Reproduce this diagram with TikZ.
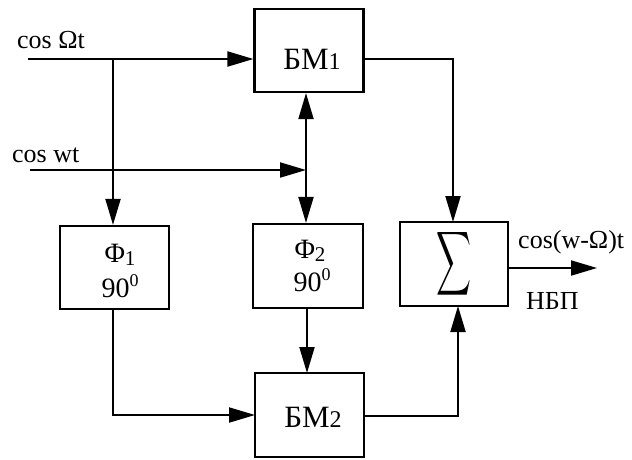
\documentclass[tikz,border=0pt]{standalone}
\usepackage{fontspec}
\setmainfont{Liberation Serif}
\usetikzlibrary{arrows.meta}
\tikzset{
  blk/.style={draw, line width=2.2pt, minimum width=109pt, minimum height=84pt, inner sep=0pt},
  btxt/.style={inner sep=0pt, font=\fontsize{28}{30}\selectfont, anchor=base},
  bmtxt/.style={btxt, font=\fontsize{31}{33}\selectfont},
  lbl/.style={inner sep=0pt, font=\fontsize{26}{28}\selectfont, anchor=base west},
  wire/.style={line width=2pt},
  arr/.style={wire, -{Triangle[length=26pt,width=15pt]}},
}
\newcommand{\sbn}[1]{{\fontsize{21}{22}\selectfont #1}}
\newcommand{\sbm}[1]{{\fontsize{24}{25}\selectfont #1}}
\newcommand{\degsup}{\raisebox{11pt}{\fontsize{18}{19}\selectfont 0}}
\begin{document}
\begin{tikzpicture}[x=1pt,y=-1pt]
\useasboundingbox (0,0) rectangle (632,459);
% blocks
\node[blk, minimum height=83pt] (bm1) at (309,50.5) {};
\node[blk, minimum height=83pt] (f1) at (114.5,267.5) {};
\node[blk, minimum width=110pt] (f2) at (308,266) {};
\node[blk, minimum width=108pt] (sum) at (454,264) {\resizebox{35pt}{47pt}{$\displaystyle\sum$}};
\node[blk] (bm2) at (309.5,415) {};
% block texts
\node[bmtxt] (t1) at (312,69) {БМ\sbm{1}};
\node[btxt] (t2) at (120,262) {Φ\raisebox{-3pt}{\sbn{1}}};
\node[btxt] (t3) at (120,297) {90\degsup};
\node[btxt] (t4) at (310,258) {Φ\raisebox{-3pt}{\sbn{2}}};
\node[btxt] (t5) at (312,291) {90\degsup};
\node[bmtxt] (t6) at (313,427) {БМ\sbm{2}};
% labels
\node[lbl] (lo) at (17,48) {cos Ωt};
\node[lbl] (lw) at (12,162) {cos wt};
\node[lbl] (lout) at (518,248) {cos(w-Ω)t};
\node[lbl] (lssb) at (526,309) {НБП};
% coordinates
\coordinate (inO) at (28,59);
\coordinate (inW) at (30,170);
\coordinate (jO) at (113,59);
\coordinate (jW) at (306,170);
\coordinate (out) at (597,268);
% connectors
\draw[arr] (inO) -- (bm1.west |- inO);
\draw[arr] (jO) -- (jO |- f1.north);
\draw[arr] (inW) -- (jW);
\draw[arr] (jW) -- (jW |- bm1.south);
\draw[arr] (jW) -- (jW |- f2.north);
\draw[arr] (bm1.east |- inO) -| (453,222);
\draw[arr] (113,309) |- (255,415);
\draw[arr] (307,308) -- (307,373);
\draw[arr] (364,416) -| (458,306);
\draw[arr] (sum.east |- out) -- (out);
\end{tikzpicture}
\end{document}
